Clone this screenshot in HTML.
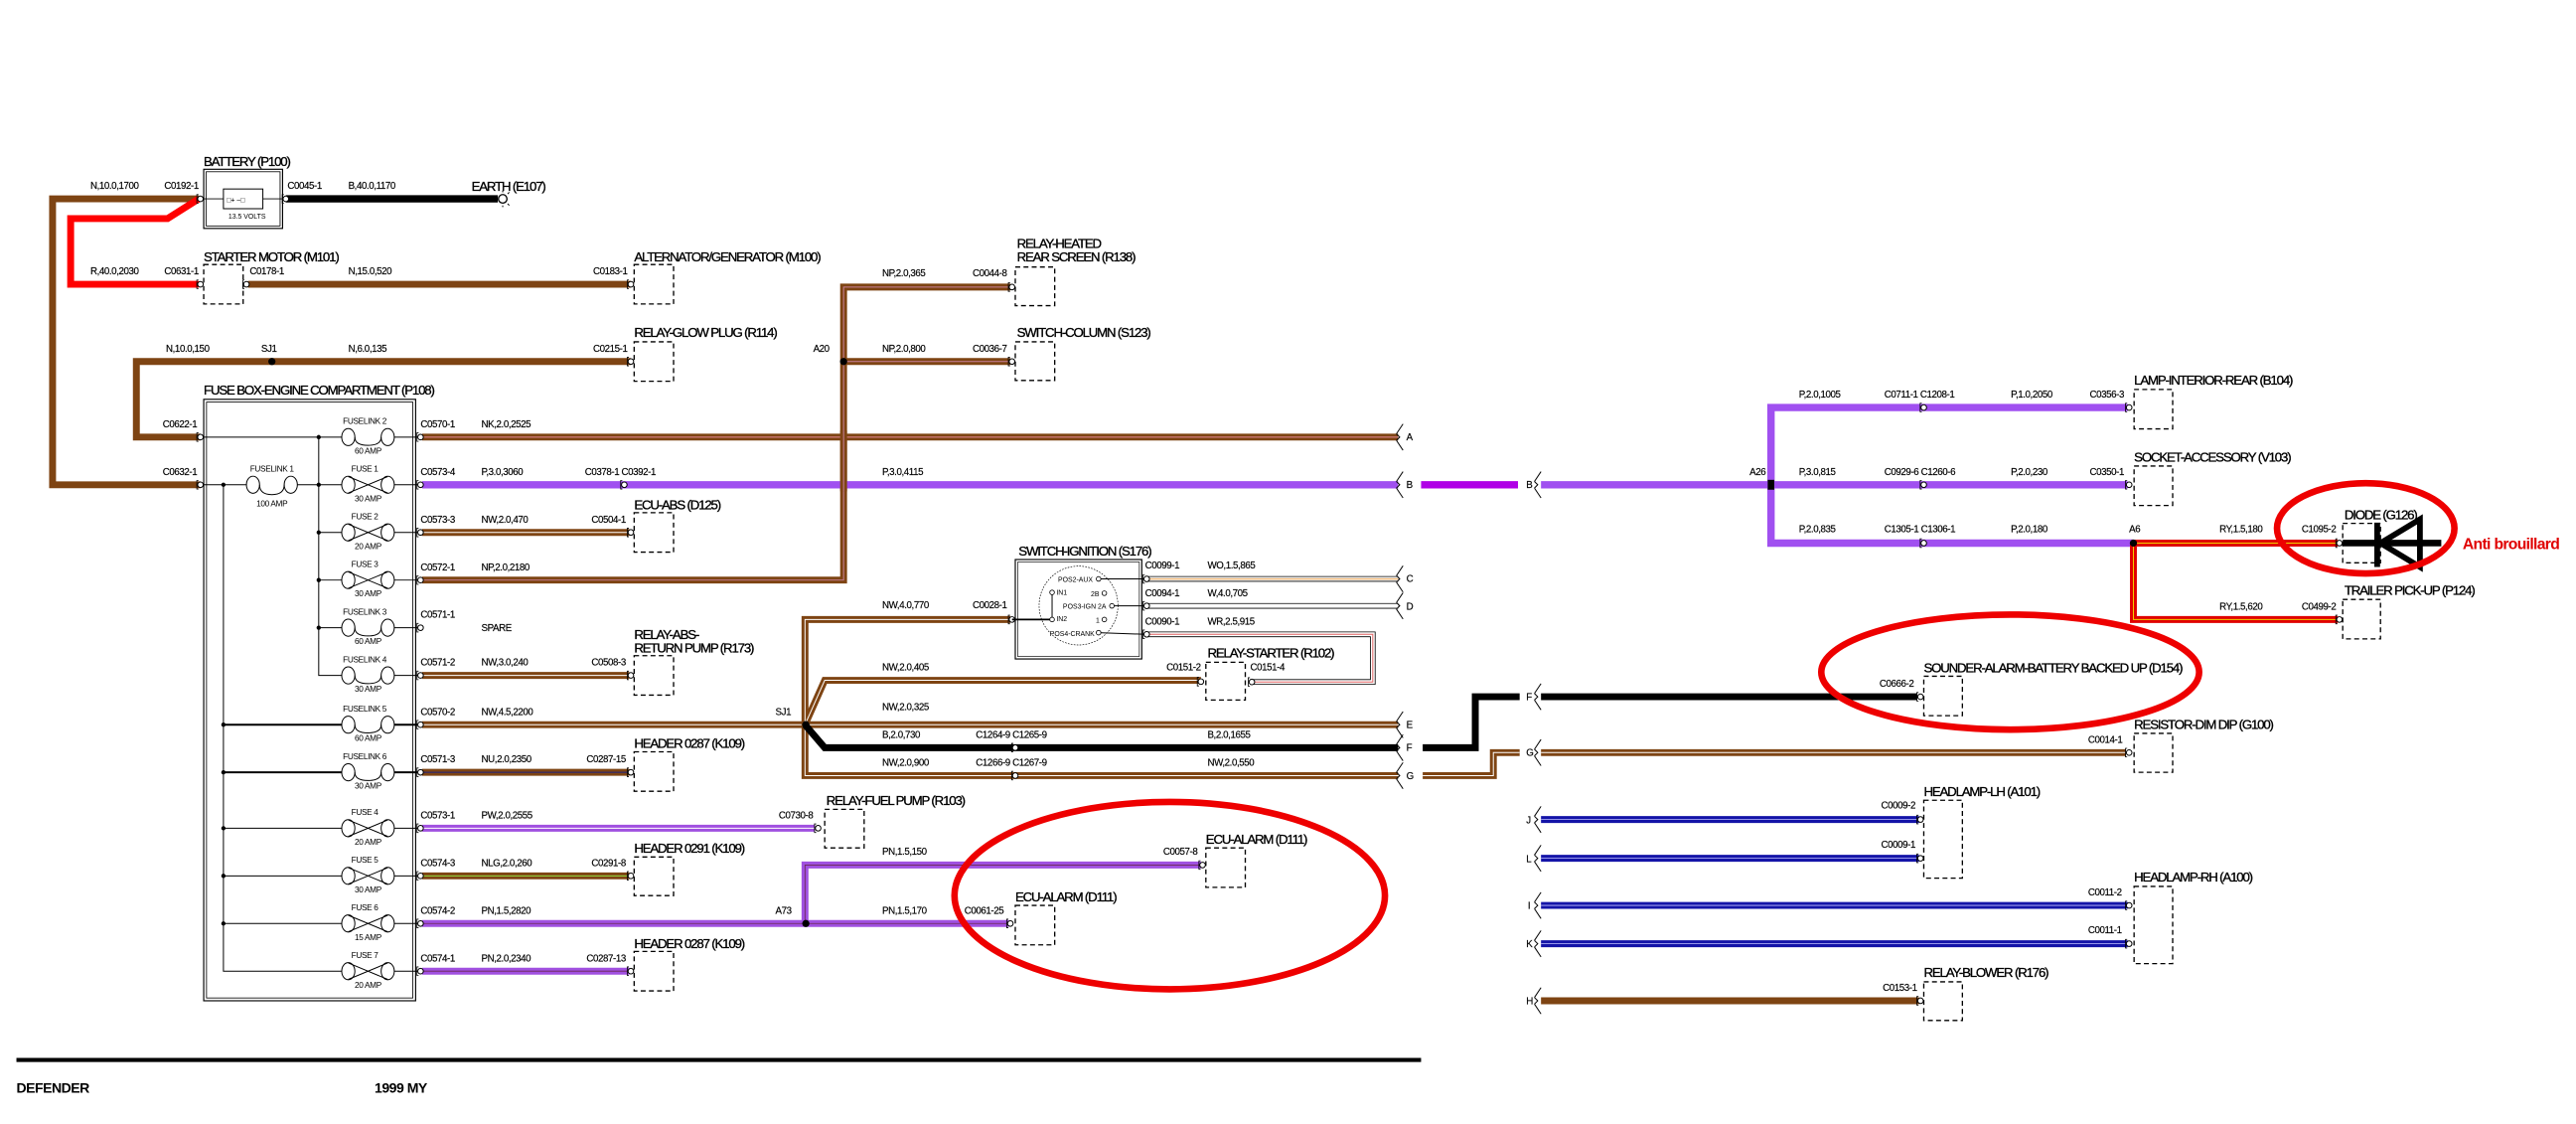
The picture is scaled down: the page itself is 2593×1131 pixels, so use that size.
<!DOCTYPE html>
<html><head><meta charset="utf-8"><style>
html,body{margin:0;padding:0;background:#fff;}
svg{display:block;}
text{font-family:"Liberation Sans Narrow","Liberation Sans",Arial,sans-serif;fill:#000;}
.l{font-size:5.9px;letter-spacing:-0.25px;stroke:#000;stroke-width:0.1px;}
.c{font-size:8px;letter-spacing:-0.7px;stroke:#000;stroke-width:0.2px;}
.f{font-size:5px;letter-spacing:-0.2px;}
.i{font-size:4.2px;}
</style></head><body>
<svg width="2593" height="1131" viewBox="0 0 1568 684" preserveAspectRatio="none" xmlns="http://www.w3.org/2000/svg">
<defs>
<g id="cn"><circle r="1.7" fill="#fff" stroke="#000" stroke-width="0.6"/><path d="M-1.2,-2.6 L-2.2,-2.6 L-2.2,2.6 L-1.2,2.6" fill="none" stroke="#000" stroke-width="0.5"/></g>
<g id="brk"><path d="M2,-8 L-2,-2 M-2,2 L2,8" fill="none" stroke="#000" stroke-width="0.6"/><path d="M-2,-2 L0,0 L-2,2" fill="none" stroke="#000" stroke-width="0.6"/></g>
<g id="dot"><circle r="2.2" fill="#000"/></g>
</defs>
<rect width="1568" height="684" fill="#fff"/>

<!-- ===== top-left battery area ===== -->
<polyline points="121,121 32,121 32,295 122,295" fill="none" stroke="#7e4413" stroke-width="4.2"/>
<polyline points="121,121 102,133 43,133 43,173 121,173" fill="none" stroke="#ff0000" stroke-width="4.2"/>
<line x1="174" y1="121" x2="303" y2="121" stroke="#000" stroke-width="4.5"/>
<circle cx="306" cy="121" r="2.6" fill="#fff" stroke="#000" stroke-width="0.8"/>
<path d="M306,117 L306,116 M309,118 L310,117 M309,124 L310,125 M306,125 L306,126" stroke="#000" stroke-width="0.6"/>
<rect x="124" y="103" width="48" height="36" fill="#fff" stroke="#000" stroke-width="0.7"/>
<rect x="125.5" y="104.5" width="45" height="33" fill="none" stroke="#000" stroke-width="0.5"/>
<rect x="136" y="115" width="24" height="12" fill="none" stroke="#000" stroke-width="0.6"/>
<line x1="124" y1="121" x2="136" y2="121" stroke="#000" stroke-width="0.5"/>
<line x1="160" y1="121" x2="172" y2="121" stroke="#000" stroke-width="0.5"/>
<text class="i" x="138" y="123">□+  –□</text>
<text class="i" x="139" y="133">13.5 VOLTS</text>
<use href="#cn" x="122" y="121"/><use href="#cn" x="174" y="121"/>
<text class="c" x="124" y="101">BATTERY (P100)</text>
<text class="l" x="55" y="115">N,10.0,1700</text>
<text class="l" x="100" y="115">C0192-1</text>
<text class="l" x="175" y="115">C0045-1</text>
<text class="l" x="212" y="115">B,40.0,1170</text>
<text class="c" x="287" y="116">EARTH (E107)</text>

<!-- starter -->
<line x1="151" y1="173" x2="384" y2="173" stroke="#7e4413" stroke-width="4.2"/>
<rect x="124" y="161" width="24" height="24" fill="none" stroke="#000" stroke-width="0.8" stroke-dasharray="3,2"/>
<use href="#cn" x="122" y="173"/><use href="#cn" x="150" y="173"/>
<text class="c" x="124" y="159">STARTER MOTOR (M101)</text>
<text class="l" x="55" y="167">R,40.0,2030</text>
<text class="l" x="100" y="167">C0631-1</text>
<text class="l" x="152" y="167">C0178-1</text>
<text class="l" x="212" y="167">N,15.0,520</text>
<text class="l" x="361" y="167">C0183-1</text>
<rect x="386" y="161" width="24" height="24" fill="none" stroke="#000" stroke-width="0.8" stroke-dasharray="3,2"/>
<use href="#cn" x="384" y="173"/>
<text class="c" x="386" y="159">ALTERNATOR/GENERATOR (M100)</text>

<!-- glow -->
<polyline points="384,220 83,220 83,266 122,266" fill="none" stroke="#7e4413" stroke-width="4.2"/>
<use href="#dot" x="165.5" y="220"/>
<rect x="386" y="208" width="24" height="24" fill="none" stroke="#000" stroke-width="0.8" stroke-dasharray="3,2"/>
<use href="#cn" x="384" y="220"/>
<text class="c" x="386" y="205">RELAY-GLOW PLUG (R114)</text>
<text class="l" x="101" y="214">N,10.0,150</text>
<text class="l" x="159" y="214">SJ1</text>
<text class="l" x="212" y="214">N,6.0,135</text>
<text class="l" x="361" y="214">C0215-1</text>

<!-- A20 NP -->
<polyline points="615,174.7 513.5,174.7 513.5,353 257,353" fill="none" stroke="#7e4413" stroke-width="4.2"/>
<polyline points="615,174.7 513.5,174.7 513.5,353 257,353" fill="none" stroke="#c8809c" stroke-width="0.6"/>
<line x1="513.5" y1="220" x2="615" y2="220" stroke="#7e4413" stroke-width="4.2"/>
<line x1="513.5" y1="220" x2="615" y2="220" stroke="#c8809c" stroke-width="0.6"/>
<use href="#dot" x="513.5" y="220"/>
<text class="l" x="495" y="214">A20</text>
<text class="l" x="537" y="168">NP,2.0,365</text>
<text class="l" x="592" y="168">C0044-8</text>
<text class="l" x="537" y="214">NP,2.0,800</text>
<text class="l" x="592" y="214">C0036-7</text>
<rect x="618" y="162.5" width="24" height="23.5" fill="none" stroke="#000" stroke-width="0.8" stroke-dasharray="3,2"/>
<rect x="618" y="208" width="24" height="23.5" fill="none" stroke="#000" stroke-width="0.8" stroke-dasharray="3,2"/>
<use href="#cn" x="616" y="174.7"/><use href="#cn" x="616" y="220"/>
<text class="c" x="619" y="151">RELAY-HEATED</text>
<text class="c" x="619" y="159">REAR SCREEN (R138)</text>
<text class="c" x="619" y="205">SWITCH-COLUMN (S123)</text>

<!-- ===== fuse box ===== -->
<rect x="124" y="243" width="129" height="366" fill="none" stroke="#000" stroke-width="0.7"/>
<rect x="125.7" y="244.7" width="125.6" height="362.6" fill="none" stroke="#000" stroke-width="0.5"/>
<text class="c" x="124" y="240">FUSE BOX-ENGINE COMPARTMENT (P108)</text>
<use href="#cn" x="122" y="266"/><use href="#cn" x="122" y="295"/>
<text class="l" x="99" y="260">C0622-1</text>
<text class="l" x="99" y="289">C0632-1</text>
<g stroke="#000" stroke-width="0.6" fill="none">
<line x1="124" y1="266" x2="208" y2="266"/>
<line x1="124" y1="295" x2="150" y2="295"/>
<line x1="181" y1="295" x2="208" y2="295"/>
<polyline points="194,266 194,411 208,411"/>
<line x1="194" y1="324" x2="208" y2="324"/>
<line x1="194" y1="353" x2="208" y2="353"/>
<line x1="194" y1="382" x2="208" y2="382"/>
<polyline points="136,295 136,591 208,591"/>
<line x1="136" y1="504" x2="208" y2="504"/>
<line x1="136" y1="533" x2="208" y2="533"/>
<line x1="136" y1="562" x2="208" y2="562"/>
<line x1="136" y1="441" x2="208" y2="441" stroke-width="1.2"/>
<line x1="136" y1="470" x2="208" y2="470" stroke-width="1.2"/>
<ellipse cx="154" cy="295" rx="4" ry="5.2"/><ellipse cx="177" cy="295" rx="4" ry="5.2"/>
<path d="M158,295 Q158,301 165.5,301 Q173,301 173,295"/>
</g>
<text class="f" x="165.5" y="287" text-anchor="middle">FUSELINK 1</text>
<text class="f" x="165.5" y="308" text-anchor="middle">100 AMP</text>
<g fill="#000">
<circle cx="194" cy="266" r="1.3"/><circle cx="194" cy="295" r="1.3"/><circle cx="194" cy="324" r="1.3"/><circle cx="194" cy="353" r="1.3"/><circle cx="194" cy="382" r="1.3"/>
<circle cx="136" cy="295" r="1.3"/><circle cx="136" cy="441" r="1.3"/><circle cx="136" cy="470" r="1.3"/><circle cx="136" cy="504" r="1.3"/><circle cx="136" cy="533" r="1.3"/><circle cx="136" cy="562" r="1.3"/>
</g>
<g stroke="#000" stroke-width="0.6" fill="none">
<g transform="translate(0,266)"><ellipse cx="212" rx="4" ry="5.2"/><ellipse cx="236" rx="4" ry="5.2"/><path d="M216,0 Q216,5 224,5 Q232,5 232,0"/><line x1="240" x2="254"/></g>
<g transform="translate(0,382)"><ellipse cx="212" rx="4" ry="5.2"/><ellipse cx="236" rx="4" ry="5.2"/><path d="M216,0 Q216,5 224,5 Q232,5 232,0"/><line x1="240" x2="254"/></g>
<g transform="translate(0,411)"><ellipse cx="212" rx="4" ry="5.2"/><ellipse cx="236" rx="4" ry="5.2"/><path d="M216,0 Q216,5 224,5 Q232,5 232,0"/><line x1="240" x2="254"/></g>
<g transform="translate(0,441)"><ellipse cx="212" rx="4" ry="5.2"/><ellipse cx="236" rx="4" ry="5.2"/><path d="M216,0 Q216,5 224,5 Q232,5 232,0"/><line x1="240" x2="254" stroke-width="1.2"/></g>
<g transform="translate(0,470)"><ellipse cx="212" rx="4" ry="5.2"/><ellipse cx="236" rx="4" ry="5.2"/><path d="M216,0 Q216,5 224,5 Q232,5 232,0"/><line x1="240" x2="254" stroke-width="1.2"/></g>
<g transform="translate(0,295)"><ellipse cx="212" rx="4" ry="5.2"/><ellipse cx="236" rx="4" ry="5.2"/><path d="M212,-5 L236,5 M212,5 L236,-5"/><line x1="240" x2="254"/></g>
<g transform="translate(0,324)"><ellipse cx="212" rx="4" ry="5.2"/><ellipse cx="236" rx="4" ry="5.2"/><path d="M212,-5 L236,5 M212,5 L236,-5"/><line x1="240" x2="254"/></g>
<g transform="translate(0,353)"><ellipse cx="212" rx="4" ry="5.2"/><ellipse cx="236" rx="4" ry="5.2"/><path d="M212,-5 L236,5 M212,5 L236,-5"/><line x1="240" x2="254"/></g>
<g transform="translate(0,504)"><ellipse cx="212" rx="4" ry="5.2"/><ellipse cx="236" rx="4" ry="5.2"/><path d="M212,-5 L236,5 M212,5 L236,-5"/><line x1="240" x2="254"/></g>
<g transform="translate(0,533)"><ellipse cx="212" rx="4" ry="5.2"/><ellipse cx="236" rx="4" ry="5.2"/><path d="M212,-5 L236,5 M212,5 L236,-5"/><line x1="240" x2="254"/></g>
<g transform="translate(0,562)"><ellipse cx="212" rx="4" ry="5.2"/><ellipse cx="236" rx="4" ry="5.2"/><path d="M212,-5 L236,5 M212,5 L236,-5"/><line x1="240" x2="254"/></g>
<g transform="translate(0,591)"><ellipse cx="212" rx="4" ry="5.2"/><ellipse cx="236" rx="4" ry="5.2"/><path d="M212,-5 L236,5 M212,5 L236,-5"/><line x1="240" x2="254"/></g>
</g>
<g text-anchor="middle">
<text class="f" x="222" y="258">FUSELINK 2</text><text class="f" x="224" y="276">60 AMP</text>
<text class="f" x="222" y="287">FUSE 1</text><text class="f" x="224" y="305">30 AMP</text>
<text class="f" x="222" y="316">FUSE 2</text><text class="f" x="224" y="334">20 AMP</text>
<text class="f" x="222" y="345">FUSE 3</text><text class="f" x="224" y="363">30 AMP</text>
<text class="f" x="222" y="374">FUSELINK 3</text><text class="f" x="224" y="392">60 AMP</text>
<text class="f" x="222" y="403">FUSELINK 4</text><text class="f" x="224" y="421">30 AMP</text>
<text class="f" x="222" y="433">FUSELINK 5</text><text class="f" x="224" y="451">60 AMP</text>
<text class="f" x="222" y="462">FUSELINK 6</text><text class="f" x="224" y="480">30 AMP</text>
<text class="f" x="222" y="496">FUSE 4</text><text class="f" x="224" y="514">20 AMP</text>
<text class="f" x="222" y="525">FUSE 5</text><text class="f" x="224" y="543">30 AMP</text>
<text class="f" x="222" y="554">FUSE 6</text><text class="f" x="224" y="572">15 AMP</text>
<text class="f" x="222" y="583">FUSE 7</text><text class="f" x="224" y="601">20 AMP</text>
</g>

<!-- ===== fuse output wires ===== -->
<line x1="257" y1="266" x2="851" y2="266" stroke="#7e4413" stroke-width="4.2"/>
<line x1="257" y1="266" x2="851" y2="266" stroke="#e88a9a" stroke-width="0.6"/>
<line x1="257" y1="295" x2="851" y2="295" stroke="#a050f0" stroke-width="4.5"/>
<line x1="513.5" y1="262" x2="513.5" y2="299" stroke="#7e4413" stroke-width="4.2"/>
<line x1="513.5" y1="262" x2="513.5" y2="299" stroke="#c8809c" stroke-width="0.6"/>
<g stroke="#7e4413" stroke-width="4.2">
<line x1="257" y1="324" x2="383" y2="324"/>
<line x1="257" y1="411" x2="383" y2="411"/>
<line x1="257" y1="441" x2="490" y2="441"/>
<line x1="257" y1="470" x2="383" y2="470"/>
<line x1="257" y1="533" x2="383" y2="533"/>
</g>
<g stroke-width="0.6">
<line x1="257" y1="324" x2="383" y2="324" stroke="#fff"/>
<line x1="257" y1="411" x2="383" y2="411" stroke="#fff"/>
<line x1="257" y1="441" x2="490" y2="441" stroke="#fff"/>
<line x1="257" y1="470" x2="383" y2="470" stroke="#202080"/>
<line x1="257" y1="533" x2="383" y2="533" stroke="#90e040"/>
</g>
<g stroke="#a050e0" stroke-width="4.2">
<line x1="257" y1="504" x2="496" y2="504"/>
<polyline points="257,562 614,562" fill="none"/>
<polyline points="490,562 490,526.4 731,526.4" fill="none"/>
<line x1="257" y1="591" x2="383" y2="591"/>
</g>
<line x1="257" y1="504" x2="496" y2="504" stroke="#fff" stroke-width="0.6"/>
<line x1="257" y1="562" x2="614" y2="562" stroke="#6a2a50" stroke-width="0.5"/>
<polyline points="490,562 490,526.4 731,526.4" fill="none" stroke="#6a2a50" stroke-width="0.5"/>
<line x1="257" y1="591" x2="383" y2="591" stroke="#6a2a50" stroke-width="0.5"/>
<use href="#dot" x="490.5" y="562"/>

<use href="#cn" x="256" y="266"/><use href="#cn" x="256" y="295"/><use href="#cn" x="256" y="324"/><use href="#cn" x="256" y="353"/><use href="#cn" x="256" y="382"/><use href="#cn" x="256" y="411"/><use href="#cn" x="256" y="441"/><use href="#cn" x="256" y="470"/><use href="#cn" x="256" y="504"/><use href="#cn" x="256" y="533"/><use href="#cn" x="256" y="562"/><use href="#cn" x="256" y="591"/>
<use href="#cn" x="380" y="295"/>
<use href="#cn" x="384" y="324"/><use href="#cn" x="384" y="411"/><use href="#cn" x="384" y="470"/><use href="#cn" x="384" y="533"/><use href="#cn" x="384" y="591"/>
<use href="#cn" x="498" y="504"/><use href="#cn" x="615" y="562"/><use href="#cn" x="732" y="526.4"/>

<text class="l" x="256" y="260">C0570-1</text><text class="l" x="293" y="260">NK,2.0,2525</text>
<text class="l" x="256" y="289">C0573-4</text><text class="l" x="293" y="289">P,3.0,3060</text><text class="l" x="356" y="289">C0378-1 C0392-1</text><text class="l" x="537" y="289">P,3.0,4115</text>
<text class="l" x="256" y="318">C0573-3</text><text class="l" x="293" y="318">NW,2.0,470</text><text class="l" x="360" y="318">C0504-1</text>
<text class="l" x="256" y="347">C0572-1</text><text class="l" x="293" y="347">NP,2.0,2180</text>
<text class="l" x="256" y="376">C0571-1</text><text class="l" x="293" y="384">SPARE</text>
<text class="l" x="256" y="405">C0571-2</text><text class="l" x="293" y="405">NW,3.0,240</text><text class="l" x="360" y="405">C0508-3</text>
<text class="l" x="256" y="435">C0570-2</text><text class="l" x="293" y="435">NW,4.5,2200</text><text class="l" x="472" y="435">SJ1</text>
<text class="l" x="256" y="464">C0571-3</text><text class="l" x="293" y="464">NU,2.0,2350</text><text class="l" x="357" y="464">C0287-15</text>
<text class="l" x="256" y="498">C0573-1</text><text class="l" x="293" y="498">PW,2.0,2555</text><text class="l" x="474" y="498">C0730-8</text>
<text class="l" x="256" y="527">C0574-3</text><text class="l" x="293" y="527">NLG,2.0,260</text><text class="l" x="360" y="527">C0291-8</text>
<text class="l" x="256" y="556">C0574-2</text><text class="l" x="293" y="556">PN,1.5,2820</text><text class="l" x="472" y="556">A73</text>
<text class="l" x="256" y="585">C0574-1</text><text class="l" x="293" y="585">PN,2.0,2340</text><text class="l" x="357" y="585">C0287-13</text>
<text class="l" x="537" y="520">PN,1.5,150</text><text class="l" x="708" y="520">C0057-8</text>
<text class="l" x="537" y="556">PN,1.5,170</text><text class="l" x="587" y="556">C0061-25</text>

<g fill="none" stroke="#000" stroke-width="0.8" stroke-dasharray="3,2">
<rect x="386" y="312" width="24" height="24"/>
<rect x="386" y="399" width="24" height="24"/>
<rect x="386" y="457.5" width="24" height="24"/>
<rect x="386" y="521.5" width="24" height="23.5"/>
<rect x="386" y="579" width="24" height="24"/>
<rect x="502" y="492.5" width="24" height="23.5"/>
<rect x="618" y="551" width="24" height="24"/>
<rect x="734" y="516" width="24" height="24"/>
</g>
<text class="c" x="386" y="310">ECU-ABS (D125)</text>
<text class="c" x="386" y="389">RELAY-ABS-</text>
<text class="c" x="386" y="397">RETURN PUMP (R173)</text>
<text class="c" x="386" y="455">HEADER 0287 (K109)</text>
<text class="c" x="503" y="490">RELAY-FUEL PUMP (R103)</text>
<text class="c" x="386" y="519">HEADER 0291 (K109)</text>
<text class="c" x="386" y="577">HEADER 0287 (K109)</text>
<text class="c" x="734" y="513.5">ECU-ALARM (D111)</text>
<text class="c" x="618" y="548.5">ECU-ALARM (D111)</text>

<!-- ===== SJ1 bundle ===== -->
<g fill="none" stroke="#7e4413" stroke-width="4.2">
<polyline points="615,377 490,377 490,472 851,472"/>
<line x1="490" y1="441" x2="851" y2="441"/>
<polyline points="490,441 502,414 731,414"/>
</g>
<g fill="none" stroke="#fff" stroke-width="0.6">
<polyline points="615,377 490,377 490,472 851,472"/>
<line x1="490" y1="441" x2="851" y2="441"/>
<polyline points="490,441 502,414 731,414"/>
</g>
<polyline points="490,441 502,455 851,455" fill="none" stroke="#000" stroke-width="4.2"/>
<use href="#dot" x="490.5" y="441"/>
<use href="#cn" x="616" y="377"/><use href="#cn" x="731" y="414.8"/><use href="#cn" x="618" y="455"/><use href="#cn" x="618" y="472"/>
<text class="l" x="537" y="370">NW,4.0,770</text><text class="l" x="592" y="370">C0028-1</text>
<text class="l" x="537" y="408">NW,2.0,405</text><text class="l" x="710" y="408">C0151-2</text><text class="l" x="761" y="408">C0151-4</text>
<text class="l" x="537" y="432">NW,2.0,325</text>
<text class="l" x="537" y="449">B,2.0,730</text><text class="l" x="594" y="449">C1264-9 C1265-9</text><text class="l" x="735" y="449">B,2.0,1655</text>
<text class="l" x="537" y="466">NW,2.0,900</text><text class="l" x="594" y="466">C1266-9 C1267-9</text><text class="l" x="735" y="466">NW,2.0,550</text>

<!-- ignition switch -->
<rect x="618" y="340.5" width="77" height="60.5" fill="none" stroke="#000" stroke-width="0.7"/>
<rect x="619.5" y="342" width="74" height="57.5" fill="none" stroke="#000" stroke-width="0.4"/>
<circle cx="656.5" cy="368.5" r="24" fill="none" stroke="#000" stroke-width="0.4" stroke-dasharray="1,0.8"/>
<text class="c" x="620" y="338">SWITCH-IGNITION (S176)</text>
<g fill="none" stroke="#000" stroke-width="0.6">
<line x1="616" y1="377" x2="640" y2="377" stroke-width="1"/>
<line x1="640.4" y1="360.5" x2="640.4" y2="377"/>
<line x1="668.7" y1="352.3" x2="697" y2="352.3"/>
<line x1="676.8" y1="368.7" x2="697" y2="368.7"/>
<line x1="668.7" y1="385" x2="697" y2="386"/>
</g>
<g fill="#fff" stroke="#000" stroke-width="0.5">
<circle cx="668.7" cy="352.3" r="1.4"/><circle cx="640.4" cy="360.5" r="1.4"/><circle cx="672.2" cy="361" r="1.4"/><circle cx="676.8" cy="368.7" r="1.4"/><circle cx="640.4" cy="377" r="1.4"/><circle cx="672.2" cy="377" r="1.4"/><circle cx="668.7" cy="385" r="1.4"/>
</g>
<text class="i" x="644" y="354">POS2-AUX</text>
<text class="i" x="643" y="362">IN1</text>
<text class="i" x="664" y="363">2B</text>
<text class="i" x="647" y="370.5">POS3-IGN 2A</text>
<text class="i" x="643" y="378">IN2</text>
<text class="i" x="667" y="379">1</text>
<text class="i" x="639" y="387">POS4-CRANK</text>
<g fill="none">
<line x1="697" y1="352.3" x2="851" y2="352.3" stroke="#000" stroke-width="3.4"/>
<line x1="697" y1="352.3" x2="851" y2="352.3" stroke="#fff" stroke-width="2.4"/>
<line x1="697" y1="352.3" x2="851" y2="352.3" stroke="#e8b070" stroke-width="0.8"/>
<line x1="697" y1="368.7" x2="851" y2="368.7" stroke="#000" stroke-width="3.4"/>
<line x1="697" y1="368.7" x2="851" y2="368.7" stroke="#fff" stroke-width="2.4"/>
<polyline points="697,386 835.6,386 835.6,415 762,415" stroke="#000" stroke-width="3.4"/>
<polyline points="697,386 835.6,386 835.6,415 762,415" stroke="#fff" stroke-width="2.4"/>
<polyline points="697,386 835.6,386 835.6,415 762,415" stroke="#e06060" stroke-width="0.6"/>
</g>
<use href="#cn" x="698" y="352.3"/><use href="#cn" x="698" y="368.7"/><use href="#cn" x="698" y="386"/><use href="#cn" x="762" y="415"/>
<text class="l" x="697" y="346">C0099-1</text><text class="l" x="735" y="346">WO,1.5,865</text>
<text class="l" x="697" y="363">C0094-1</text><text class="l" x="735" y="363">W,4.0,705</text>
<text class="l" x="697" y="380">C0090-1</text><text class="l" x="735" y="380">WR,2.5,915</text>
<rect x="734" y="403" width="24" height="23" fill="none" stroke="#000" stroke-width="0.8" stroke-dasharray="3,2"/>
<text class="c" x="735" y="400">RELAY-STARTER (R102)</text>

<use href="#brk" x="852" y="266"/><use href="#brk" x="852" y="295"/><use href="#brk" x="852" y="352.3"/><use href="#brk" x="852" y="368.7"/><use href="#brk" x="852" y="441"/><use href="#brk" x="852" y="455"/><use href="#brk" x="852" y="472"/>
<text class="l" x="856" y="268">A</text><text class="l" x="856" y="297">B</text><text class="l" x="856" y="354">C</text><text class="l" x="856" y="371">D</text><text class="l" x="856" y="443">E</text><text class="l" x="856" y="457">F</text><text class="l" x="856" y="474">G</text>

<!-- ===== right section ===== -->
<line x1="865" y1="295" x2="924" y2="295" stroke="#b000e6" stroke-width="4.5"/>
<line x1="938" y1="295" x2="1078" y2="295" stroke="#a050f0" stroke-width="4.5"/>
<g fill="none" stroke="#a050f0" stroke-width="4.5">
<polyline points="1295,248 1078,248 1078,330.5 1298.6,330.5"/>
<line x1="1078" y1="295" x2="1295" y2="295"/>
</g>
<rect x="1076" y="292" width="4" height="6" fill="#000"/>
<polyline points="1298.6,330.5 1423,330.5" fill="none" stroke="#e00000" stroke-width="4.2"/>
<polyline points="1298.6,330.5 1298.6,377 1423,377" fill="none" stroke="#e00000" stroke-width="4.2"/>
<polyline points="1298.6,330.5 1423,330.5" fill="none" stroke="#f0d000" stroke-width="0.6"/>
<polyline points="1298.6,332 1298.6,377 1423,377" fill="none" stroke="#f0d000" stroke-width="0.6"/>
<use href="#dot" x="1298.6" y="330.5"/>
<use href="#cn" x="1171" y="248"/><use href="#cn" x="1171" y="295"/><use href="#cn" x="1171" y="330.5"/>
<use href="#cn" x="1296" y="248"/><use href="#cn" x="1296" y="295"/>
<use href="#cn" x="1424" y="330.5"/><use href="#cn" x="1424" y="377"/>
<g fill="none" stroke="#000" stroke-width="0.8" stroke-dasharray="3,2">
<rect x="1299" y="237" width="23.5" height="24"/>
<rect x="1299" y="283.6" width="23.5" height="24"/>
<rect x="1426" y="318.5" width="23" height="24"/>
<rect x="1426" y="364.8" width="23" height="24"/>
<rect x="1171" y="411.5" width="23.5" height="24"/>
<rect x="1299" y="446.3" width="23.5" height="23.7"/>
<rect x="1171" y="487" width="23.5" height="47.4"/>
<rect x="1299" y="539.4" width="23.5" height="47"/>
<rect x="1171" y="597.5" width="23.5" height="23.5"/>
</g>
<line x1="1426" y1="330.5" x2="1486" y2="330.5" stroke="#000" stroke-width="4"/>
<line x1="1447" y1="318" x2="1447" y2="345" stroke="#000" stroke-width="3.5"/>
<path d="M1449,330.5 L1473,316 L1473,345 Z" fill="none" stroke="#000" stroke-width="3.5"/>
<text class="l" x="1065" y="289">A26</text>
<text class="l" x="1095" y="242">P,2.0,1005</text><text class="l" x="1147" y="242">C0711-1 C1208-1</text><text class="l" x="1224" y="242">P,1.0,2050</text><text class="l" x="1272" y="242">C0356-3</text>
<text class="l" x="1095" y="289">P,3.0,815</text><text class="l" x="1147" y="289">C0929-6 C1260-6</text><text class="l" x="1224" y="289">P,2.0,230</text><text class="l" x="1272" y="289">C0350-1</text>
<text class="l" x="1095" y="324">P,2.0,835</text><text class="l" x="1147" y="324">C1305-1 C1306-1</text><text class="l" x="1224" y="324">P,2.0,180</text><text class="l" x="1296" y="324">A6</text>
<text class="l" x="1351" y="324">RY,1.5,180</text><text class="l" x="1401" y="324">C1095-2</text>
<text class="l" x="1351" y="371">RY,1.5,620</text><text class="l" x="1401" y="371">C0499-2</text>
<text class="c" x="1299" y="234">LAMP-INTERIOR-REAR (B104)</text>
<text class="c" x="1299" y="281">SOCKET-ACCESSORY (V103)</text>
<text class="c" x="1427" y="316">DIODE (G126)</text>
<text class="c" x="1427" y="362">TRAILER PICK-UP (P124)</text>
<text x="1499" y="334" style="font-family:'Liberation Sans',sans-serif;font-size:9.5px;font-weight:bold;fill:#e00000;letter-spacing:-0.4px">Anti brouillard</text>

<polyline points="866,455 898,455 898,424 925,424" fill="none" stroke="#000" stroke-width="4.2"/>
<line x1="938" y1="424" x2="1167" y2="424" stroke="#000" stroke-width="4.2"/>
<polyline points="866,472 909,472 909,458 925,458" fill="none" stroke="#7e4413" stroke-width="4.2"/>
<polyline points="866,472 909,472 909,458 925,458" fill="none" stroke="#fff" stroke-width="0.6"/>
<line x1="938" y1="458" x2="1294" y2="458" stroke="#7e4413" stroke-width="4.2"/>
<line x1="938" y1="458" x2="1294" y2="458" stroke="#fff" stroke-width="0.6"/>
<g stroke="#1414a8" stroke-width="4.2">
<line x1="938" y1="498.7" x2="1168" y2="498.7"/>
<line x1="938" y1="522.3" x2="1168" y2="522.3"/>
<line x1="938" y1="551" x2="1295" y2="551"/>
<line x1="938" y1="574.3" x2="1295" y2="574.3"/>
</g>
<g stroke="#c0c0ff" stroke-width="0.5">
<line x1="938" y1="498.7" x2="1168" y2="498.7"/>
<line x1="938" y1="522.3" x2="1168" y2="522.3"/>
<line x1="938" y1="551" x2="1295" y2="551"/>
<line x1="938" y1="574.3" x2="1295" y2="574.3"/>
</g>
<line x1="938" y1="609" x2="1168" y2="609" stroke="#7e4413" stroke-width="4.2"/>
<use href="#cn" x="1169" y="424"/><use href="#cn" x="1296" y="458"/><use href="#cn" x="1169" y="498.7"/><use href="#cn" x="1169" y="522.3"/><use href="#cn" x="1296" y="551"/><use href="#cn" x="1296" y="574.3"/><use href="#cn" x="1169" y="609"/>
<use href="#brk" x="936" y="295"/><use href="#brk" x="936" y="424"/><use href="#brk" x="936" y="458"/><use href="#brk" x="936" y="498.7"/><use href="#brk" x="936" y="522.3"/><use href="#brk" x="936" y="551"/><use href="#brk" x="936" y="574.3"/><use href="#brk" x="936" y="609"/>
<text class="l" x="929" y="297">B</text><text class="l" x="929" y="426">F</text><text class="l" x="929" y="460">G</text><text class="l" x="929" y="501">J</text><text class="l" x="929" y="524.5">L</text><text class="l" x="930" y="553">I</text><text class="l" x="929" y="576.5">K</text><text class="l" x="929" y="611">H</text>
<text class="l" x="1144" y="418">C0666-2</text>
<text class="l" x="1271" y="452">C0014-1</text>
<text class="l" x="1145" y="492">C0009-2</text>
<text class="l" x="1145" y="516">C0009-1</text>
<text class="l" x="1271" y="545">C0011-2</text>
<text class="l" x="1271" y="568">C0011-1</text>
<text class="l" x="1146" y="603">C0153-1</text>
<text class="c" x="1171" y="409">SOUNDER-ALARM-BATTERY BACKED UP (D154)</text>
<text class="c" x="1299" y="443.5">RESISTOR-DIM DIP (G100)</text>
<text class="c" x="1171" y="484.5">HEADLAMP-LH (A101)</text>
<text class="c" x="1299" y="536.5">HEADLAMP-RH (A100)</text>
<text class="c" x="1171" y="594.5">RELAY-BLOWER (R176)</text>

<g fill="none" stroke="#ee0000" stroke-width="4">
<ellipse cx="712" cy="545" rx="131" ry="57"/>
<ellipse cx="1223.6" cy="409" rx="115" ry="35"/>
<ellipse cx="1440" cy="321.5" rx="54" ry="27.5"/>
</g>

<line x1="10" y1="645" x2="865" y2="645" stroke="#000" stroke-width="2.5"/>
<text x="10" y="665" style="font-family:'Liberation Sans',sans-serif;font-size:8.5px;font-weight:bold;letter-spacing:-0.3px">DEFENDER</text>
<text x="228" y="665" style="font-family:'Liberation Sans',sans-serif;font-size:8.5px;font-weight:bold;letter-spacing:-0.3px">1999 MY</text>
</svg>
</body></html>
